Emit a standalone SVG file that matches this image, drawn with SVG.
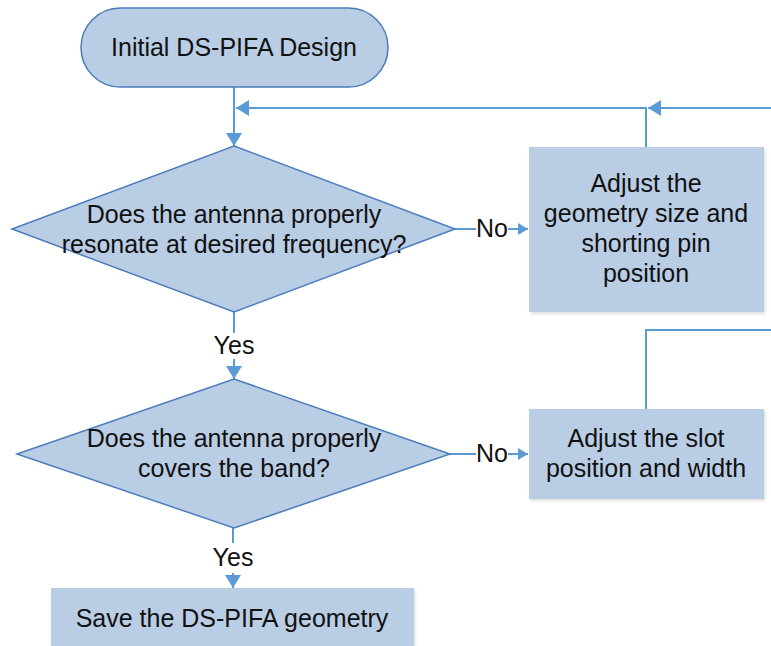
<svg xmlns="http://www.w3.org/2000/svg" width="771" height="646" viewBox="0 0 771 646">
<style>
  .t { font-family: "Liberation Sans", Arial, sans-serif; font-size: 25px; fill: #111; text-anchor: middle; }
  .shape { fill: #b9cde5; stroke: #4a7ebb; stroke-width: 1.5; }
  .box { fill: #b9cde5; }
  .c { fill: none; stroke: #5b9bd5; stroke-width: 2; }
</style>
<defs>
  <marker id="big" markerUnits="userSpaceOnUse" markerWidth="14" markerHeight="16" refX="13" refY="8" orient="auto">
    <path d="M0,0 L13,8 L0,16 Z" fill="#5b9bd5"/>
  </marker>
  <marker id="small" markerUnits="userSpaceOnUse" markerWidth="11" markerHeight="12" refX="10" refY="6" orient="auto">
    <path d="M0,0 L10,6 L0,12 Z" fill="#5b9bd5"/>
  </marker>
  <filter id="sh" x="-5%" y="-5%" width="112%" height="115%">
    <feDropShadow dx="1.5" dy="2" stdDeviation="1.5" flood-color="#000" flood-opacity="0.12"/>
  </filter>
</defs>
<rect width="771" height="646" fill="#ffffff"/>

<g id="connectors">
  <path class="c" d="M234,87 V146" marker-end="url(#big)"/>
  <path class="c" d="M771,108 H648" marker-end="url(#big)"/>
  <path class="c" d="M646,147 V108 H236" marker-end="url(#big)"/>
  <path class="c" d="M455,229 H476"/>
  <path class="c" d="M508,229 H528" marker-end="url(#small)"/>
  <path class="c" d="M234,312 V333"/>
  <path class="c" d="M234,359 V379" marker-end="url(#big)"/>
  <path class="c" d="M450,454 H476"/>
  <path class="c" d="M508,454 H528" marker-end="url(#small)"/>
  <path class="c" d="M646,409 V330 H771"/>
  <path class="c" d="M233,528 V543"/>
  <path class="c" d="M233,573 V588" marker-end="url(#big)"/>
  <text class="t" x="492" y="237">No</text>
  <text class="t" x="234" y="354">Yes</text>
  <text class="t" x="492" y="462">No</text>
  <text class="t" x="233" y="566">Yes</text>
</g>

<g id="start">
  <rect class="shape" x="81" y="8" width="307" height="79" rx="39.5"/>
  <text class="t" x="234" y="56">Initial DS-PIFA Design</text>
</g>

<g id="decision1">
  <polygon class="shape" points="234,146 455,229 234,312 12,229"/>
  <text class="t" x="234" y="223">Does the antenna properly</text>
  <text class="t" x="234" y="253">resonate at desired frequency?</text>
</g>

<g id="adjust1">
  <rect class="box" x="529" y="147" width="235" height="165" filter="url(#sh)"/>
  <text class="t" x="646" y="192">Adjust the</text>
  <text class="t" x="646" y="222">geometry size and</text>
  <text class="t" x="646" y="252">shorting pin</text>
  <text class="t" x="646" y="282">position</text>
</g>

<g id="decision2">
  <polygon class="shape" points="234,379 450,454 234,528 17,454"/>
  <text class="t" x="234" y="447">Does the antenna properly</text>
  <text class="t" x="234" y="477">covers the band?</text>
</g>

<g id="adjust2">
  <rect class="box" x="529" y="409" width="235" height="90" filter="url(#sh)"/>
  <text class="t" x="646" y="447">Adjust the slot</text>
  <text class="t" x="646" y="477">position and width</text>
</g>

<g id="save">
  <rect class="box" x="51" y="588" width="363" height="70" filter="url(#sh)"/>
  <text class="t" x="232" y="627">Save the DS-PIFA geometry</text>
</g>
</svg>
